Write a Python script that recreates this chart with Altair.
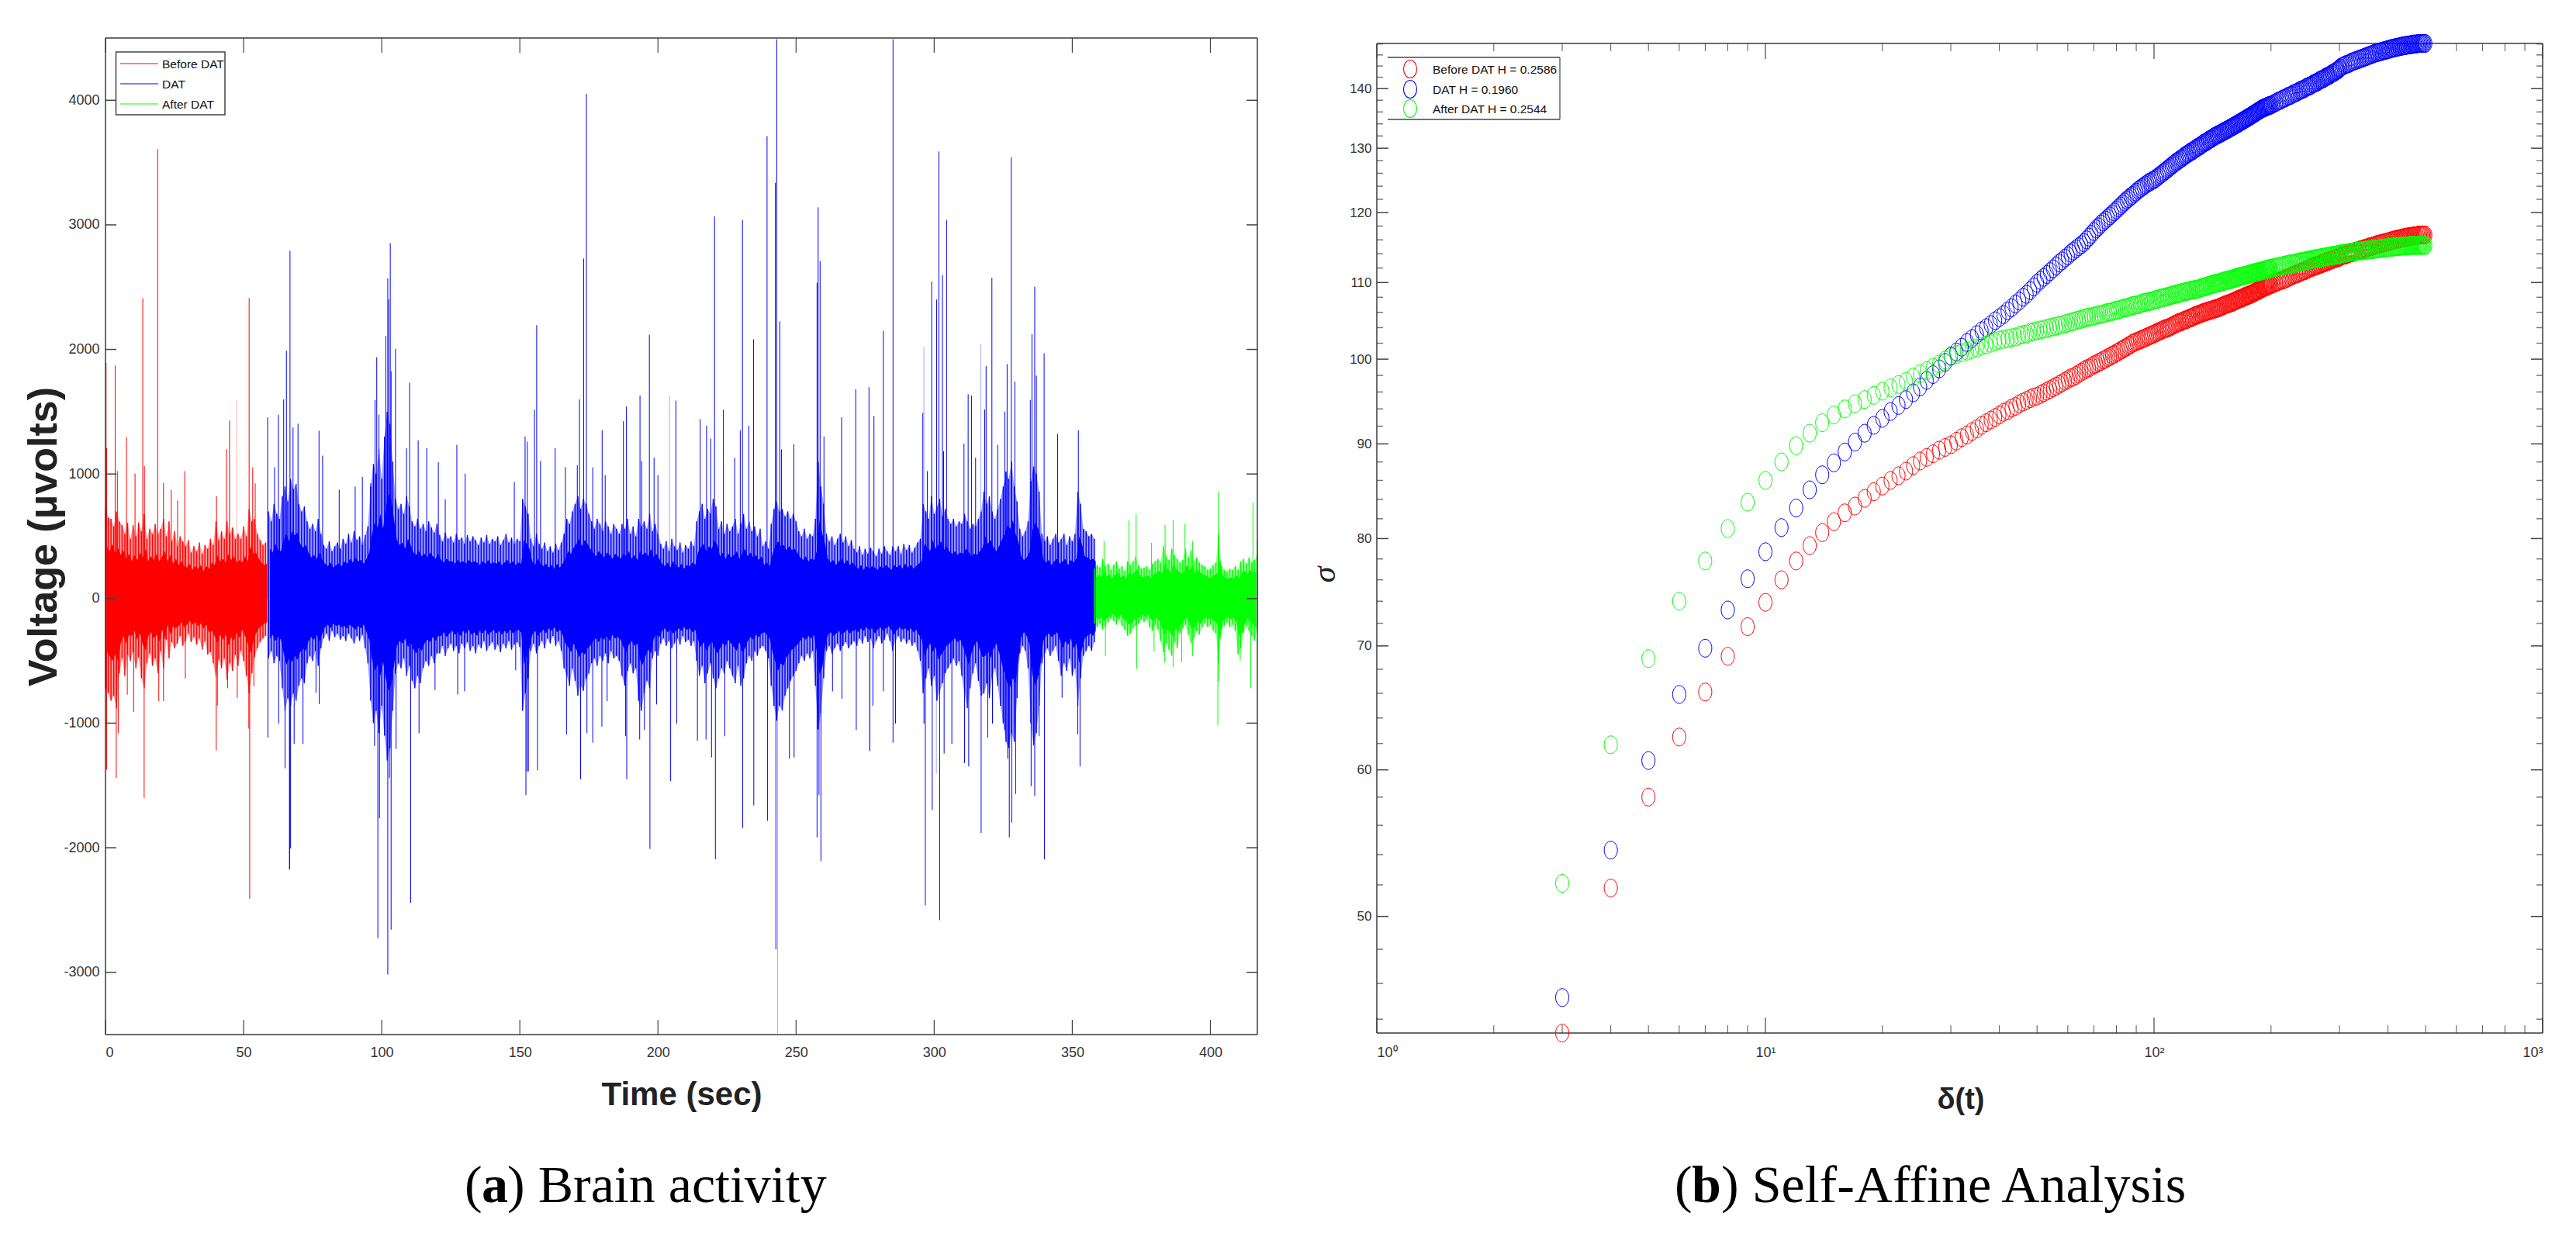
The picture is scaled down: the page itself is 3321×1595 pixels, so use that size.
import altair as alt
import pandas as pd

# ---------- panel (a): outer fuzz of the recording, one reading per second ----------
red_t = list(range(0, 59))
red_hi = [720,650,640,580,700,620,590,520,610,480,590,500,610,540,680,480,560,520,600,520,560,640,500,620,460,540,420,500,460,420,470,370,420,380,450,360,430,400,480,430,620,470,540,480,620,520,570,480,520,480,580,500,720,620,640,520,470,430,450]
red_lo = [-720,-760,-820,-780,-880,-600,-480,-620,-450,-500,-430,-560,-470,-640,-720,-520,-440,-540,-480,-600,-420,-560,-330,-480,-350,-400,-360,-300,-380,-340,-280,-350,-310,-370,-320,-410,-340,-450,-430,-520,-620,-490,-560,-480,-650,-520,-580,-450,-540,-420,-500,-620,-760,-600,-470,-400,-350,-320,-300]
blue_t = list(range(59, 359))
blue_hi = [700,620,760,680,640, 820,900,780,960,880,920,760,700,740, 620,560,600,540,640,520, 430,400,460,380,420,450,400,
 480,440,520,450,540,470,500,430,510,580, 900,1080,1000,1200,960,1300,1500,1400,1100, 800,720,760,680,820,740,
 620,580,640,560,600,540,620,570,530,600,
 510,460,530,480,500,450,520,470,490,440,510,460,500,470,430,490,450,510,440,480,460,500,430,470,520,450,490,440,480,460,
 800,740,680, 480,420,520,440,400,450,380, 420,370,440,390,450,520, 640,600,700,760,820,720,800,760,680,
 620,560,640,600,540,620,580,520,600,560, 520,600,560,640,520,580,500, 640,580,620,560,680,540,600,520,
 440,400,460,380,480,420,390,450,370,430,400,460,420, 620,700,760,640,720,680,800,740,
 560,620,520,600,540,580,640,520,600,680,560,620,540,580,500,560, 420,460,400,600,720,
 780,700,720,660,700,640,680,620, 540,500,560,480,520,500,640, 1100,900,760,
 520,460,500,430,480,520,450,500,420,470, 400,370,420,350,400,360,410,380,340,400,360,420,380,350,420,
 380,420,360,440,390,430,370,410,450,480, 760,700,640,820,680,740,800,660,720,640,
 600,640,580,620,600,680, 620,560,600,580,640,700, 860,760,820,700,640, 720,800,900,1020,960,1100,900,780,
 560,500,540,620, 940,1060,1000,860, 520,460,500,430,480,520,450, 480,520,430,500,460,520, 860,760, 560,540,500,520,480]
blue_lo = [-480,-420,-520,-460,-500, -720,-900,-800,-860,-760,-820,-700,-640,-680, -520,-460,-500,-420,-540,-400, -320,-280,-340,-260,-310,-280,-330,
 -300,-340,-280,-320,-360,-300,-340,-290,-400,-520, -820,-1000,-900,-1080,-860,-1100,-1300,-1200,-900, -600,-520,-560,-480,-620,-540,
 -660,-720,-620,-680,-560,-500,-540,-460,-520,-440,
 -440,-380,-460,-400,-360,-420,-380,-440,-360,-400,-350,-420,-380,-440,-370,-400,-340,-420,-380,-350,-410,-370,-430,-360,-400,-340,-410,-370,-350,-390,
 -900,-760,-640, -420,-360,-440,-380,-340,-400,-320, -360,-300,-380,-340,-420,-560, -620,-700,-560,-660,-780,-700,-740,-640,-600,
 -520,-480,-540,-460,-500,-440,-520,-420,-480,-460, -500,-620,-700,-580,-520,-600,-560, -820,-900,-760,-660,-720,-480,-420,-460,
 -360,-320,-380,-340,-400,-360,-320,-370,-300,-350,-330,-380,-340, -500,-620,-540,-680,-600,-520,-640,-720,
 -640,-560,-600,-500,-560,-620,-680,-540,-700,-640,-520,-460,-500,-420,-460,-400, -380,-420,-480,-700,-860,
 -980,-860,-900,-780,-720,-660,-620,-580, -520,-460,-500,-440,-480,-420,-700, -1050,-920,-640,
 -420,-380,-440,-400,-360,-420,-380,-350,-400,-370, -340,-380,-320,-360,-300,-350,-320,-400,-340,-300,-360,-330,-280,-340,-420,
 -340,-300,-350,-320,-360,-330,-380,-350,-420,-500, -760,-640,-560,-700,-620,-820,-740,-680,-600,-560,
 -520,-480,-540,-500,-620,-760, -880,-720,-600,-520,-660,-780, -760,-680,-800,-640,-560, -700,-860,-1000,-1150,-1200,-1080,-1150,-800,
 -440,-380,-420,-560, -1000,-1180,-1080,-860, -520,-440,-400,-460,-420,-380,-500, -620,-520,-580,-480,-620,-560, -860,-640, -460,-420,-380,-420,-350]
green_t = list(range(358, 418))
green_hi = [240,270,250,320,260,280,230,270,300,240,260,220,300,270,300,340,270,240,250,260,230,280,300,320,290,420,340,310,400,350,320,290,310,400,330,390,300,330,290,270,260,230,240,270,290,520,260,230,220,240,230,260,230,300,320,280,330,290,310,360]
green_lo = [-200,-230,-200,-250,-220,-190,-160,-180,-210,-170,-220,-250,-300,-280,-240,-220,-200,-170,-190,-170,-230,-260,-210,-250,-340,-430,-360,-410,-460,-350,-400,-280,-240,-210,-290,-360,-320,-260,-290,-230,-200,-230,-210,-260,-280,-520,-250,-220,-190,-230,-210,-260,-450,-400,-280,-220,-260,-300,-340,-230]

# ---------- panel (a): solid core of the recording, read at the half seconds ----------
red_core_hi = [420,380,440,360,410,350,390,320,360,300,350,310,370,330,400,300,340,310,360,300,340,380,300,350,280,320,270,300,260,250,280,230,260,240,270,220,260,240,290,270,350,300,320,290,360,310,340,290,310,290,340,300,420,360,370,320,290,270,280]
red_core_lo = [-430,-460,-500,-450,-500,-360,-300,-360,-290,-300,-260,-330,-280,-370,-420,-300,-270,-320,-290,-350,-250,-330,-210,-290,-220,-240,-220,-190,-230,-210,-180,-210,-190,-220,-200,-240,-210,-270,-260,-300,-360,-290,-330,-290,-380,-310,-340,-270,-320,-250,-300,-360,-440,-350,-280,-240,-220,-200,-190]
blue_core_hi = [400,370,440,390,380, 470,520,460,540,510,530,440,410,430, 370,330,350,320,370,310, 280,260,290,250,270,280,260,
 300,280,320,290,330,300,310,280,320,370, 520,620,570,680,560,730,840,790,630, 470,430,450,400,480,430,
 370,350,380,340,360,330,370,340,320,360,
 310,290,320,300,300,280,310,290,300,280,310,290,300,290,270,300,280,310,280,290,280,300,270,290,310,280,300,270,290,280,
 470,440,400, 300,270,320,280,260,280,250, 270,240,280,250,280,320, 380,360,410,440,480,420,470,440,400,
 370,340,380,360,330,370,350,320,360,340, 320,360,340,380,320,350,310, 380,350,370,340,400,330,360,320,
 280,260,290,250,300,270,250,280,240,270,260,290,270, 370,410,440,380,420,400,470,430,
 340,370,320,360,330,350,380,320,360,400,340,370,330,350,310,340, 270,290,260,360,420,
 460,420,430,390,420,390,400,370, 330,310,340,300,320,310,380, 630,520,440,
 320,290,310,270,300,320,280,310,270,290, 260,240,270,230,260,240,260,250,230,260,240,270,250,230,270,
 250,270,240,280,250,270,240,260,280,300, 440,410,380,470,400,430,460,390,420,380,
 360,380,350,370,360,400, 370,340,360,350,380,410, 500,440,470,410,380, 420,470,520,590,560,630,520,460,
 340,310,330,370, 540,610,570,500, 320,290,310,270,300,320,280, 300,320,270,310,290,320, 500,440, 340,330,310,320,300]
blue_core_lo = [-320,-290,-340,-310,-330, -440,-530,-480,-510,-460,-490,-430,-400,-420, -340,-310,-330,-290,-350,-280, -230,-210,-240,-200,-220,-210,-230,
 -220,-240,-210,-230,-250,-220,-240,-210,-270,-330, -490,-580,-530,-620,-510,-640,-740,-690,-530, -380,-340,-360,-320,-390,-350,
 -410,-440,-390,-420,-360,-330,-350,-310,-340,-300,
 -300,-270,-310,-280,-260,-290,-270,-300,-260,-280,-250,-290,-270,-300,-260,-280,-250,-290,-270,-250,-280,-260,-290,-260,-280,-250,-280,-260,-250,-270,
 -530,-460,-400, -290,-260,-300,-270,-250,-280,-240, -260,-230,-270,-250,-290,-360, -390,-430,-360,-410,-470,-430,-450,-400,-380,
 -340,-320,-350,-310,-330,-300,-340,-290,-320,-310, -330,-390,-430,-370,-340,-380,-360, -490,-530,-460,-410,-440,-320,-290,-310,
 -260,-240,-270,-250,-280,-260,-240,-260,-230,-250,-240,-270,-250, -330,-390,-350,-420,-380,-340,-400,-440,
 -400,-360,-380,-330,-360,-390,-420,-350,-430,-400,-340,-310,-330,-290,-310,-280, -270,-290,-320,-430,-510,
 -580,-520,-540,-470,-440,-410,-390,-370, -340,-310,-330,-300,-320,-290,-430, -610,-550,-400,
 -290,-270,-300,-280,-260,-290,-270,-250,-280,-260, -250,-270,-240,-260,-230,-250,-240,-280,-250,-230,-260,-240,-220,-250,-290,
 -250,-230,-250,-240,-260,-240,-270,-250,-290,-330, -460,-400,-360,-430,-390,-490,-450,-420,-380,-360,
 -340,-320,-350,-330,-390,-460, -530,-440,-380,-340,-410,-470, -460,-420,-480,-400,-360, -430,-520,-600,-680,-710,-640,-680,-490,
 -310,-270,-300,-360, -600,-700,-640,-530, -340,-300,-280,-310,-290,-270,-330, -400,-340,-370,-320,-400,-360, -520,-410, -320,-300,-280,-300,-260]
green_core_hi = [170,190,175,220,180,195,165,190,210,170,185,160,210,190,210,235,190,170,180,185,165,195,210,225,205,280,235,215,270,240,220,200,215,270,230,260,210,230,205,190,185,165,170,190,205,320,185,165,160,170,165,185,165,210,225,200,230,205,220]
green_core_lo = [-150,-165,-150,-180,-160,-145,-125,-135,-155,-130,-160,-180,-210,-195,-170,-160,-150,-130,-145,-130,-165,-185,-155,-180,-235,-290,-245,-275,-310,-240,-270,-200,-175,-155,-205,-245,-225,-185,-205,-165,-150,-165,-155,-185,-200,-340,-180,-160,-145,-165,-155,-185,-300,-270,-200,-160,-185,-210,-235]

# ---------- panel (a): isolated spikes, (time, voltage) ----------
red_spikes = [(0.2,1892),(0.4,1208),(3.5,1871),(7.6,1296),(13.5,2411),(18.9,3609),(28.7,1023),(44.9,1429),(43.8,1198),(52,2411),(10.7,1003),(21,930),(23.8,874),(26.1,787),(40.2,822),(14.1,1064),(4.3,1023),(54.2,925),(53.3,1054),
 (0.4,-1373),(3.9,-1440),(4.6,-1080),(14,-1600),(10.2,-910),(7.9,-771),(40.1,-1218),(40.5,-859),(52.2,-2411),(51.9,-1044),(21,-823),(19.3,-823),(28.9,-643),(44.2,-720),(47.7,-797),(53.7,-704)]
blue_spikes = [(58.7,1455),(62.6,1476),(64.5,1599),(65.5,1990),(66.8,2792),(69.7,1404),(67.9,1373),(61.2,1054),(77.3,1347),(78.6,1147),(98.2,1938),(97.6,1594),(99,1476),(101.5,2108),(102.2,2571),(102.5,2401),(103.1,2853),(105,2005),(103.4,1825),(110.1,1733),(109,1208),(113.2,1270),(116.3,1208),(120.5,1095),(127.2,1234),(130.2,1003),(123,797),(96,925),(90.4,900),(93,977),(84.6,874),
 (58.8,-1116),(66.7,-2175),(67,-2005),(65,-1362),(68.3,-1167),(71.5,-1167),(62.7,-1003),(76.2,-756),(77.4,-848),(97.4,-1183),(98.6,-2725),(99.2,-1763),(102.2,-3018),(102.8,-1440),(103.4,-2658),(105.2,-1208),(110.5,-2442),(113.5,-1080),(119.3,-735),(130,-745),(127.5,-770),
 (148,936),(151.9,1301),(152.7,1260),(155.3,1517),(156.1,2195),(157.5,1105),(162.8,1208),(166.5,1054),(170.8,1070),(171.6,1599),(173.1,2730),(174.1,4051),(176.4,1054),(179.8,1352),(180.9,990),(187.5,1424),(188.6,1542),(193.5,1630),(196.9,2118),(194.1,1105),(198.6,1131),(200,990),(206.5,1589),(215.3,1440),(217.6,1388),(219.1,1285),(220.5,3069),(223.7,1517),(227.8,1131),(229.8,1352),(230.6,3039),(232.9,1388),(234.6,2082),(239.5,3712),(242.5,3337),(243,4490),(244.1,2226),(244.7,1198),(249.2,1239),(257.6,2535),(258,3141),(258.7,2710),(260.1,1301),(266.5,1455),(271.6,1681),(276.4,1697),(278.2,1465),(281.6,2149),(285.1,4490),
 (152.2,-1578),(152.6,-1388),(153.1,-1388),(156.4,-1378),(148.5,-576),(166.9,-1090),(172,-1450),(174.3,-1080),(176.4,-1157),(179.7,-1028),(181.6,-823),(188.3,-1105),(188.7,-1450),(193.4,-1131),(195.1,-1054),(197.1,-2010),(199.5,-850),(204.6,-1465),(206.8,-1003),(214.3,-1141),(217.4,-1131),(219.4,-1275),(220.8,-2093),(224.2,-1105),(230.7,-1841),(234.7,-1661),(239.7,-1784),(242.7,-2817),(247.6,-1285),(249.3,-1275),(257.6,-1918),(258.3,-1578),(259,-2108),(263.2,-745),(266.6,-805),(271.8,-1054),(276.7,-1224),(277.8,-860),(281.6,-745),(285.1,-1157),(286,-1003),
 (295.9,1491),(299.1,2545),(301.7,3589),(300.9,2401),(303,2596),(304.5,3039),(297.5,1023),(303.4,1183),(312.3,1640),(313.5,1630),(310.8,1244),(318.8,1866),(318.3,1517),(320.9,2576),(315,1131),(323,1234),(325.6,1501),(326.4,1882),(327.9,3542),(329.2,1743),(334.8,1594),(335.4,2123),(336.4,2504),(337,1789),(339.8,1969),(344.7,1321),(352.2,1352),
 (296.3,-1003),(296.8,-2463),(299.3,-1697),(302,-2581),(303.6,-1244),(306.4,-1167),(311,-1321),(312.5,-1347),(317,-1882),(319.4,-1116),(321.1,-1003),(325.6,-1054),(327.2,-1918),(328.1,-1799),(329.5,-1568),(326.6,-1285),(335.1,-1506),(336.4,-1584),(338,-1105),(339.9,-2093),(346.3,-796),(352,-1090),(352.8,-1347)]
blue_faint = [(204.2,1630),(243.3,-3490),(296.3,2021),(316.9,2041),(300.8,-1404),(276.6,-1224),(66.4,-2175)]
red_faint = [(47.5,1594)]
green_spikes = [(361.5,463),(370.5,627),(373.1,679),(378.7,447),(383.6,591),(386.5,632),(390.8,601),(393.6,463),(402.9,859),(415.4,771),(417,463),
 (373.3,-566),(362,-463),(379.6,-427),(383.5,-514),(386.5,-550),(389.6,-514),(393.6,-463),(402.7,-1018),(403,-668),(410.8,-498),(414.6,-720)]

# ---------- panel (b): fluctuation against lag, four blocks of lags ----------
lag_blocks = [list(range(3, 101)), list(range(101, 201)), list(range(202, 301, 2)), list(range(301, 500, 3))]
red_sig = [
 [43.25,51.8,58.0,62.5,66.1,69.1,71.7,73.9,76.0,77.8,79.3,80.6,81.7,82.6,83.3,84.1,84.8,85.4,86.0,86.5,87.0,87.6,88.1,88.5,88.9,89.3,89.6,89.9,90.3,90.7,91.0,91.4,91.7,92.1,92.4,92.7,93.0,93.3,
  93.6,93.8,94.1,94.3,94.6,94.8,95.0,95.2,95.4,95.5,95.7,95.9,96.1,96.3,96.5,96.7,96.9,97.1,97.3,97.5,97.7,97.8,98.0,98.2,98.4,98.6,98.8,98.9,99.1,99.3,99.4,99.6,99.7,99.9,100.0,100.2,100.3,100.5,100.6,100.8,100.9,101.1,101.2,101.4,101.5,101.7,101.8,102.0,102.1,102.2,102.3,102.4,102.5,102.6,102.7,102.8,102.9,103.0,103.1,103.2],
 [103.3,103.4,103.5,103.6,103.7,103.8,103.9,103.9,104.0,104.1,104.2,104.3,104.4,104.5,104.6,104.7,104.7,104.8,104.9,105.0,105.0,105.1,105.2,105.3,105.3,105.4,105.5,105.6,105.6,105.7,105.8,105.8,105.9,106.0,106.0,106.1,106.1,106.2,106.2,106.3,106.3,106.4,106.4,106.5,106.5,106.6,106.6,106.7,106.8,106.8,
  106.9,107.0,107.0,107.1,107.1,107.2,107.2,107.3,107.3,107.4,107.5,107.5,107.6,107.7,107.7,107.8,107.8,107.9,107.9,108.0,108.1,108.1,108.2,108.2,108.3,108.3,108.4,108.4,108.5,108.6,108.6,108.7,108.8,108.8,108.9,108.9,109.0,109.1,109.1,109.2,109.3,109.3,109.4,109.4,109.5,109.5,109.6,109.6,109.7,109.7],
 [109.8,109.9,110.0,110.1,110.2,110.3,110.3,110.4,110.5,110.6,110.7,110.8,110.9,111.0,111.1,111.2,111.2,111.3,111.4,111.5,111.6,111.6,111.7,111.8,111.9,112.0,112.1,112.1,112.2,112.3,112.3,112.4,112.5,112.5,112.6,112.7,112.7,112.8,112.9,112.9,113.0,113.1,113.1,113.2,113.3,113.3,113.4,113.4,113.5,113.5],
 [113.6,113.7,113.8,113.8,113.9,114.0,114.1,114.1,114.2,114.3,114.4,114.4,114.5,114.6,114.6,114.7,114.8,114.8,114.9,115.0,115.0,115.1,115.1,115.2,115.3,115.3,115.4,115.4,115.5,115.5,115.6,115.6,115.7,115.7,115.8,115.8,115.9,115.9,116.0,116.0,116.1,116.1,116.1,116.2,116.2,116.3,116.3,116.3,116.4,116.4,116.4,116.5,116.5,116.5,116.5,116.6,116.6,116.6,116.6,116.7,116.7,116.7,116.7,116.7,116.7,116.7,116.7],
]
blue_sig = [
 [45.2,54.3,60.7,65.9,69.8,73.2,76.1,78.7,81.1,83.1,85.0,86.6,87.9,89.1,90.2,91.2,92.1,92.9,93.7,94.4,95.1,95.9,96.6,97.4,98.1,98.8,99.6,100.4,100.9,101.5,102.1,102.6,103.1,103.6,104.0,104.4,104.9,105.3,
  105.7,106.2,106.6,107.1,107.5,108.0,108.4,108.9,109.4,109.9,110.3,110.7,111.1,111.5,111.9,112.3,112.7,113.0,113.4,113.7,114.1,114.4,114.7,115.0,115.3,115.6,116.0,116.4,116.8,117.2,117.6,117.9,118.3,118.6,118.9,119.2,119.5,119.8,120.1,120.4,120.7,121.0,121.3,121.6,121.9,122.1,122.4,122.6,122.9,123.1,123.4,123.6,123.8,124.0,124.2,124.4,124.6,124.7,124.9,125.0],
 [125.2,125.4,125.6,125.8,126.0,126.2,126.4,126.6,126.8,127.0,127.2,127.4,127.6,127.8,127.9,128.1,128.3,128.4,128.6,128.8,128.9,129.1,129.2,129.4,129.5,129.6,129.8,129.9,130.1,130.2,130.3,130.5,130.6,130.8,130.9,131.0,131.1,131.3,131.4,131.5,131.6,131.8,131.9,132.0,132.1,132.2,132.3,132.4,132.5,132.6,
  132.7,132.8,132.9,133.0,133.1,133.2,133.3,133.4,133.5,133.6,133.7,133.8,133.9,134.0,134.1,134.2,134.3,134.4,134.5,134.6,134.7,134.8,134.9,135.0,135.1,135.2,135.3,135.4,135.5,135.6,135.7,135.8,135.9,136.0,136.1,136.2,136.3,136.4,136.5,136.6,136.6,136.7,136.8,136.8,136.9,137.0,137.0,137.1,137.1,137.2],
 [137.3,137.5,137.6,137.8,137.9,138.0,138.2,138.3,138.4,138.6,138.7,138.8,138.9,139.1,139.2,139.3,139.4,139.6,139.7,139.8,139.9,140.0,140.2,140.3,140.4,140.5,140.6,140.8,140.9,141.0,141.1,141.2,141.4,141.5,141.6,141.7,141.8,142.0,142.1,142.2,142.3,142.4,142.6,142.7,142.8,142.9,143.1,143.2,143.3,143.5],
 [143.7,143.9,144.0,144.2,144.3,144.4,144.5,144.7,144.8,144.9,145.0,145.1,145.2,145.3,145.4,145.5,145.6,145.7,145.8,145.9,146.0,146.1,146.2,146.3,146.4,146.4,146.5,146.6,146.6,146.7,146.8,146.8,146.9,147.0,147.0,147.1,147.2,147.2,147.3,147.3,147.4,147.4,147.5,147.5,147.6,147.6,147.7,147.7,147.7,147.8,147.8,147.8,147.9,147.9,147.9,148.0,148.0,148.0,148.0,148.1,148.1,148.1,148.1,148.1,148.1,148.1,148.1],
]
green_sig = [
 [52.1,61.9,68.9,74.0,77.8,81.0,83.7,86.0,88.0,89.8,91.2,92.4,93.3,94.0,94.6,95.1,95.6,96.1,96.5,96.9,97.3,97.8,98.2,98.6,99.0,99.4,99.9,100.3,100.6,100.8,101.0,101.2,101.4,101.6,101.8,102.0,102.2,102.4,
  102.5,102.6,102.7,102.8,103.0,103.1,103.2,103.4,103.5,103.6,103.7,103.8,103.9,104.0,104.1,104.2,104.3,104.4,104.5,104.6,104.7,104.8,104.9,105.0,105.1,105.2,105.3,105.4,105.4,105.5,105.6,105.7,105.7,105.8,105.9,106.0,106.0,106.1,106.2,106.3,106.3,106.4,106.5,106.6,106.6,106.7,106.8,106.9,106.9,107.0,107.0,107.1,107.2,107.3,107.3,107.4,107.4,107.5,107.5,107.6],
 [107.7,107.7,107.8,107.9,107.9,108.0,108.0,108.1,108.1,108.2,108.3,108.3,108.4,108.4,108.5,108.5,108.6,108.6,108.7,108.7,108.8,108.8,108.9,108.9,109.0,109.0,109.0,109.1,109.1,109.1,109.2,109.3,109.3,109.4,109.4,109.5,109.5,109.6,109.6,109.7,109.7,109.8,109.8,109.9,109.9,109.9,110.0,110.0,110.1,110.1,
  110.2,110.2,110.3,110.3,110.3,110.4,110.4,110.4,110.5,110.5,110.6,110.6,110.7,110.7,110.8,110.8,110.8,110.9,110.9,110.9,111.0,111.0,111.0,111.1,111.1,111.2,111.2,111.2,111.3,111.3,111.3,111.4,111.4,111.4,111.5,111.5,111.5,111.6,111.6,111.6,111.7,111.7,111.7,111.8,111.8,111.8,111.9,111.9,111.9,112.0],
 [112.0,112.1,112.1,112.2,112.2,112.3,112.3,112.4,112.4,112.5,112.5,112.6,112.6,112.6,112.7,112.7,112.8,112.8,112.9,112.9,112.9,113.0,113.0,113.1,113.1,113.1,113.2,113.2,113.3,113.3,113.3,113.4,113.4,113.4,113.5,113.5,113.5,113.6,113.6,113.6,113.7,113.7,113.7,113.8,113.8,113.8,113.8,113.9,113.9,113.9],
 [114.0,114.0,114.1,114.1,114.1,114.2,114.2,114.2,114.3,114.3,114.3,114.4,114.4,114.4,114.4,114.5,114.5,114.5,114.5,114.6,114.6,114.6,114.6,114.7,114.7,114.7,114.7,114.8,114.8,114.8,114.8,114.8,114.9,114.9,114.9,114.9,114.9,115.0,115.0,115.0,115.0,115.0,115.0,115.1,115.1,115.1,115.1,115.1,115.1,115.1,115.1,115.2,115.2,115.2,115.2,115.2,115.2,115.2,115.2,115.2,115.2,115.2,115.2,115.2,115.2,115.2,115.2],
]

# ---------- ticks and labels ----------
a_xticks = [0,50,100,150,200,250,300,350,400]
a_yticks = [-3000,-2000,-1000,0,1000,2000,3000,4000]
b_xticks = [1,10,100,1000]
b_xminor = [2,3,4,5,6,7,8,9,20,30,40,50,60,70,80,90,200,300,400,500,600,700,800,900]
b_yticks = [50,60,70,80,90,100,110,120,130,140]
b_yminor = [44,46,48,52,54,56,58,62,64,66,68,72,74,76,78,82,84,86,88,92,94,96,98,102,104,106,108,112,114,116,118,122,124,126,128,132,134,136,138,142,144,146,148]
a_legend = ["Before DAT", "DAT", "After DAT"]
b_legend = ["Before DAT H = 0.2586", "DAT H = 0.1960", "After DAT H = 0.2544"]
RED, BLUE, GREEN = "#ff0000", "#0000ff", "#00ff00"
SANS = "Liberation Sans"
SERIF = "Liberation Serif"
W_A, W_B, H = 1485, 1503, 1285
TICK = "#444444"
ONE = pd.DataFrame({"i": [0]})

def label(text, x, y, size, font=SANS, weight="normal", style="normal", angle=0, align="left", color="#222222"):
    return alt.Chart(pd.DataFrame({"s": [text]})).mark_text(
        font=font, fontSize=size, fontWeight=weight, fontStyle=style, angle=angle,
        align=align, baseline="alphabetic", color=color
    ).encode(x=alt.value(x), y=alt.value(y), text="s:N")

def frame(w, top, bottom):
    rows = [(0, w, top, top), (0, w, bottom, bottom), (0, 0, top, bottom), (w, w, top, bottom)]
    return [alt.Chart(ONE).mark_rule(color="#3a3a3a", strokeWidth=1.5).encode(
        x=alt.value(a), x2=alt.value(b), y=alt.value(c), y2=alt.value(d)) for a, b, c, d in rows]

def hticks(vals, yenc, w, length, color=TICK, width=1.5):
    df = pd.DataFrame({"v": vals})
    return [alt.Chart(df).mark_rule(color=color, strokeWidth=width).encode(
        y=yenc("v"), x=alt.value(a), x2=alt.value(b)) for a, b in [(0, length), (w, w - length)]]

def vticks(vals, xenc, top, bottom, length, color=TICK, width=1.2):
    df = pd.DataFrame({"v": vals})
    return [alt.Chart(df).mark_rule(color=color, strokeWidth=width).encode(
        x=xenc("v"), y=alt.value(a), y2=alt.value(b)) for a, b in [(top, top + length), (bottom, bottom - length)]]

# ---------- panel (a) ----------
xa_scale = alt.Scale(domain=[0, 417], nice=False, zero=False)
ya_scale = alt.Scale(domain=[-3500, 4500], nice=False, zero=False)
xa_axis = alt.Axis(values=a_xticks, ticks=False, domain=False, grid=False, labelFont=SANS, labelFontSize=18,
                   labelColor="#333333", labelPadding=14, labelAngle=0, format="d", title=None)
ya_axis = alt.Axis(values=a_yticks, ticks=False, domain=False, grid=False, labelFont=SANS, labelFontSize=18,
                   labelColor="#333333", labelPadding=8, labelExpr="'' + datum.value", title=None)
xa = lambda f: alt.X(f + ":Q", scale=xa_scale, axis=xa_axis)
ya = lambda f: alt.Y(f + ":Q", scale=ya_scale, axis=ya_axis)

def core(t, hi, lo, color):
    df = pd.DataFrame({"t": [k + 0.5 for k in t[:len(hi)]], "hi": hi, "lo": lo})
    return alt.Chart(df).mark_area(color=color, opacity=1).encode(x=xa("t"), y=ya("hi"), y2="lo:Q")

def haze(t, hi, lo, color):
    df = pd.DataFrame({"t": t, "hi": hi, "lo": lo})
    return alt.Chart(df).mark_area(color=color, opacity=0.4).encode(x=xa("t"), y=ya("hi"), y2="lo:Q")

def fuzz(t, hi, lo, color):
    df = pd.DataFrame({"t": t, "hi": hi, "lo": lo})
    return alt.Chart(df).mark_rule(color=color, strokeWidth=1.4).encode(x=xa("t"), y=ya("hi"), y2="lo:Q")

def spikes(pairs, color, opacity=1.0):
    df = pd.DataFrame(pairs, columns=["t", "v"])
    return alt.Chart(df).mark_rule(color=color, opacity=opacity, strokeWidth=1).encode(
        x=xa("t"), y=ya("v"), y2=alt.datum(0))

leg_a = [alt.Chart(ONE).mark_rect(fill="white", stroke="#444444", strokeWidth=1.5).encode(
    x=alt.value(13.5), x2=alt.value(154), y=alt.value(18), y2=alt.value(99))]
for name, col, ly in zip(a_legend, [RED, BLUE, GREEN], [33, 59, 85]):
    leg_a.append(alt.Chart(ONE).mark_rule(color=col, strokeWidth=1.2).encode(
        x=alt.value(19), x2=alt.value(68), y=alt.value(ly)))
    leg_a.append(label(name, 73, ly + 6, 15.5, color="#111111"))

panel_a = alt.layer(
    haze(red_t, red_hi, red_lo, RED), haze(blue_t, blue_hi, blue_lo, BLUE), haze(green_t, green_hi, green_lo, GREEN),
    core(red_t, red_core_hi, red_core_lo, RED), core(blue_t, blue_core_hi, blue_core_lo, BLUE), core(green_t, green_core_hi, green_core_lo, GREEN),
    fuzz(red_t, red_hi, red_lo, RED), fuzz(blue_t, blue_hi, blue_lo, BLUE), fuzz(green_t, green_hi, green_lo, GREEN),
    spikes(red_spikes, RED), spikes(red_faint, RED, 0.3), spikes(blue_spikes, BLUE), spikes(blue_faint, BLUE, 0.35), spikes(green_spikes, GREEN),
    *hticks(a_yticks, ya, W_A, 14), *vticks(a_xticks, xa, 0, H, 19), *frame(W_A, 0, H), *leg_a,
    label("Time (sec)", 743, 1376, 42, weight="bold", align="center"),
    label("Voltage (μvolts)", -63, 643, 52, weight="bold", angle=270, align="center"),
    label("(", 463, 1501, 68, font=SERIF, color="#000000"),
    label("a", 485, 1501, 68, font=SERIF, weight="bold", color="#000000"),
    label(") Brain activity", 518, 1501, 68, font=SERIF, color="#000000"),
).properties(width=W_A, height=H)

# ---------- panel (b) ----------
xb_scale = alt.Scale(type="log", domain=[1, 1000], nice=False)
yb_scale = alt.Scale(type="log", domain=[43.25, 148.1], range=[1283, 7], nice=False)
TOP_B, BOT_B = 7, 1283
ELLIPSE = "M-0.74,0A0.74,1,0,1,1,0.74,0A0.74,1,0,1,1,-0.74,0Z"
xb_axis = alt.Axis(values=b_xticks, ticks=False, domain=False, grid=False, labelFont=SANS, labelFontSize=18,
                   labelColor="#333333", labelPadding=14, labelAngle=0, title=None,
                   labelExpr="datum.value == 1 ? '10⁰' : datum.value == 10 ? '10¹' : datum.value == 100 ? '10²' : '10³'")
yb_axis = alt.Axis(values=b_yticks, ticks=False, domain=False, grid=False, labelFont=SANS, labelFontSize=17,
                   labelColor="#333333", labelPadding=7, format="d", title=None)
xb = lambda f: alt.X(f + ":Q", scale=xb_scale, axis=xb_axis)
yb = lambda f: alt.Y(f + ":Q", scale=yb_scale, axis=yb_axis)

def rings(blocks, color):
    pairs = [p for ls, vs in zip(lag_blocks, blocks) for p in zip(ls, vs)]
    df = pd.DataFrame(pairs, columns=["lag", "s"])
    return alt.Chart(df).mark_point(shape=ELLIPSE, size=529, filled=False, color=color, strokeWidth=1, opacity=1).encode(
        x=xb("lag"), y=yb("s"))

leg_b = [
    alt.Chart(ONE).mark_rule(color="#444444", strokeWidth=1.5).encode(x=alt.value(14), x2=alt.value(236), y=alt.value(25)),
    alt.Chart(ONE).mark_rule(color="#444444", strokeWidth=1.5).encode(x=alt.value(14), x2=alt.value(236), y=alt.value(105)),
    alt.Chart(ONE).mark_rule(color="#444444", strokeWidth=1.2).encode(x=alt.value(236), y=alt.value(25), y2=alt.value(105)),
]
for name, col, my in zip(b_legend, [RED, BLUE, GREEN], [40, 66, 91]):
    leg_b.append(alt.Chart(ONE).mark_point(shape=ELLIPSE, size=529, filled=False, color=col, strokeWidth=1.1, opacity=1).encode(
        x=alt.value(43), y=alt.value(my)))
    leg_b.append(label(name, 72, my + 6, 15.5, color="#111111"))

panel_b = alt.layer(
    *hticks(b_yminor, yb, W_B, 8, color="#777777", width=1.5), *hticks(b_yticks, yb, W_B, 15),
    *vticks(b_xminor, xb, TOP_B, BOT_B, 10, color="#555555", width=1), *vticks(b_xticks, xb, TOP_B, BOT_B, 20),
    *frame(W_B, TOP_B, BOT_B),
    rings(red_sig, RED), rings(blue_sig, BLUE), rings(green_sig, GREEN),
    *leg_b,
    label("δ(t)", 753, 1381, 38, weight="bold", align="center"),
    label("σ", -54, 692, 42, font=SERIF, style="italic", angle=270, align="center"),
    label("(", 384, 1501, 68, font=SERIF, color="#000000"),
    label("b", 406, 1501, 68, font=SERIF, weight="bold", color="#000000"),
    label(") Self-Affine Analysis", 444, 1501, 68, font=SERIF, color="#000000"),
).properties(width=W_B, height=H)

chart = alt.hconcat(panel_a, panel_b, spacing=154, bounds="flush").properties(
    padding={"left": 23, "top": 34, "right": 5, "bottom": 0}, background="white"
).configure_view(stroke=None)

chart.save("out.html", embed_options={"renderer": "svg", "actions": False})
